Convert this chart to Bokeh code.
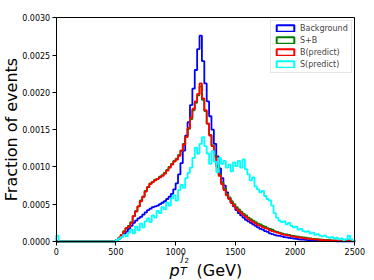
import math
from bokeh.plotting import figure
from bokeh.models import (Range1d, FixedTicker, NumeralTickFormatter, Label,
                          Legend, LegendItem, LinearAxis)
from bokeh.embed import file_html
from bokeh.resources import INLINE

# ---------------- data ----------------
bin_edges = list(range(0, 2520, 20))          # 125 bins of 20 GeV, 0..2500
x_lo, x_hi = 0, 2500
y_lo, y_hi = 0.0, 0.003
x_ticks = [0, 500, 1000, 1500, 2000, 2500]
y_ticks = [0.0, 0.0005, 0.0010, 0.0015, 0.0020, 0.0025, 0.0030]

first_bin_bg = [0.0]
first_bin_sb = [0.0]
first_bin_bp = [0.0]
first_bin_sp = [0.00008]
empty_bins = [0.0] * 24                      # 20..500 GeV: no events

background = [
    0.00002, 0.00004, 0.00007, 0.00010, 0.00013,
    0.00017, 0.00021, 0.00025, 0.00028, 0.00031,
    0.00033, 0.00036, 0.00039, 0.00042, 0.00044,
    0.00046, 0.00047, 0.00048, 0.00050, 0.00052,
    0.00054, 0.00057, 0.00060, 0.00064, 0.00070,
    0.00078, 0.00090, 0.00105, 0.00122, 0.00142,
    0.00160, 0.00183, 0.00205, 0.00230, 0.00258,
    0.00276, 0.00242, 0.00212, 0.00188, 0.00168,
    0.00150, 0.00131, 0.00114, 0.00098, 0.00085,
    0.00075, 0.00066, 0.00058, 0.00052, 0.00047,
    0.00042, 0.00038, 0.00035, 0.00032, 0.00029,
    0.00027, 0.00025, 0.00023, 0.00021, 0.00019,
    0.00017, 0.00016, 0.00014, 0.00013, 0.00011,
    0.00010, 0.00009, 0.00008, 0.000075, 0.00007,
    0.00006, 0.000055, 0.00005, 0.000045, 0.00004,
    0.000035, 0.00003, 0.000027, 0.000024, 0.000021,
    0.000018, 0.000016, 0.000014, 0.000012, 0.00001,
    0.000009, 0.000008, 0.000007, 0.000006, 0.000005,
    0.000005, 0.000004, 0.000003, 0.000003, 0.000002,
    0.000002, 0.000002, 0.000001, 0.000001, 0.000001,
]

s_plus_b = [
    0.00002, 0.00005, 0.00009, 0.00014, 0.00018,
    0.00021, 0.00026, 0.00034, 0.00041, 0.00047,
    0.00055, 0.00060, 0.00068, 0.00073, 0.00078,
    0.00080, 0.00083, 0.00084, 0.00087, 0.00089,
    0.00092, 0.00096, 0.00100, 0.00104, 0.00108,
    0.00111, 0.00116, 0.00122, 0.00131, 0.00140,
    0.00151, 0.00164, 0.00176, 0.00186, 0.00196,
    0.00208, 0.00190, 0.00175, 0.00158, 0.00143,
    0.00129, 0.00115, 0.00102, 0.00090, 0.00079,
    0.00071, 0.00064, 0.00059, 0.00054, 0.00050,
    0.00046, 0.00043, 0.00040, 0.00037, 0.00035,
    0.00032, 0.00030, 0.00028, 0.00026, 0.00024,
    0.00023, 0.00021, 0.00020, 0.00018, 0.00017,
    0.00016, 0.00014, 0.00013, 0.00012, 0.00011,
    0.00010, 0.000095, 0.00009, 0.00008, 0.000075,
    0.00007, 0.000065, 0.00006, 0.000055, 0.00005,
    0.000045, 0.00004, 0.000036, 0.000033, 0.00003,
    0.000027, 0.000024, 0.000022, 0.00002, 0.000018,
    0.000016, 0.000014, 0.000013, 0.000011, 0.00001,
    0.000009, 0.000008, 0.000014, 0.000007, 0.000006,
]

b_predict = [
    0.00002, 0.00005, 0.00009, 0.00013, 0.00018,
    0.00020, 0.00025, 0.00034, 0.00040, 0.00047,
    0.00054, 0.00060, 0.00067, 0.00073, 0.00077,
    0.00080, 0.00082, 0.00084, 0.00086, 0.00088,
    0.00091, 0.00095, 0.00099, 0.00103, 0.00107,
    0.00110, 0.00115, 0.00122, 0.00130, 0.00140,
    0.00152, 0.00166, 0.00178, 0.00188, 0.00198,
    0.00212, 0.00192, 0.00176, 0.00158, 0.00142,
    0.00128, 0.00114, 0.00100, 0.00088, 0.00077,
    0.00069, 0.00062, 0.00057, 0.00052, 0.00048,
    0.00044, 0.00041, 0.00038, 0.00035, 0.00033,
    0.00030, 0.00028, 0.00026, 0.00024, 0.00022,
    0.00021, 0.00019, 0.00018, 0.00017, 0.00015,
    0.00014, 0.00013, 0.00012, 0.00011, 0.00010,
    0.00009, 0.000085, 0.00008, 0.00007, 0.000065,
    0.00006, 0.000055, 0.00005, 0.000045, 0.00004,
    0.000037, 0.000034, 0.00003, 0.000028, 0.000025,
    0.000023, 0.00002, 0.000018, 0.000016, 0.000015,
    0.000013, 0.000012, 0.00001, 0.000009, 0.000008,
    0.000008, 0.000007, 0.000012, 0.000006, 0.000005,
]

s_predict = [
    0.00002, 0.00004, 0.00006, 0.00009, 0.00007,
    0.00012, 0.00016, 0.00011, 0.00020, 0.00015,
    0.00024, 0.00019, 0.00027, 0.00031, 0.00026,
    0.00035, 0.00032, 0.00041, 0.00038, 0.00046,
    0.00043, 0.00052, 0.00048, 0.00058, 0.00062,
    0.00055, 0.00069, 0.00076, 0.00072, 0.00085,
    0.00092, 0.00099, 0.00112, 0.00126, 0.00118,
    0.00131, 0.00140, 0.00128, 0.00118, 0.00104,
    0.00121, 0.00107, 0.00093, 0.00112, 0.00104,
    0.00108, 0.00099, 0.00103, 0.00094, 0.00106,
    0.00101, 0.00108, 0.00099, 0.00110, 0.00097,
    0.00090, 0.00082, 0.00086, 0.00074, 0.00070,
    0.00066, 0.00068, 0.00061, 0.00057, 0.00055,
    0.00048, 0.00038, 0.00032, 0.00028, 0.00026,
    0.00027, 0.00023, 0.00025, 0.00021, 0.00019,
    0.00020, 0.00016, 0.00017, 0.00014, 0.00013,
    0.00014, 0.00011, 0.00012, 0.00009, 0.00010,
    0.00008, 0.00007, 0.00008, 0.00006, 0.00005,
    0.00006, 0.00004, 0.00005, 0.00003, 0.00004,
    0.00002, 0.00003, 0.00008, 0.00003, 0.00001,
]

series_labels = ["Background", "S+B", "B(predict)", "S(predict)"]
series_colors = ["#0000ff", "#008000", "#ff0000", "#00ffff"]
series_values = [
    first_bin_bg + empty_bins + background,
    first_bin_sb + empty_bins + s_plus_b,
    first_bin_bp + empty_bins + b_predict,
    first_bin_sp + empty_bins + s_predict,
]

FONT = "DejaVu Sans"

# ---------------- layout (pixels) ----------------
W, H = 374, 280
box_left, box_right = 55.7, 354.3      # pixel position of x = 0 and x = 2500
box_top, box_bottom = 17.3, 241.0      # pixel position of y = 0.003 and y = 0
ux = (x_hi - x_lo) / (box_right - box_left)   # data units per pixel
uy = (y_hi - y_lo) / (box_bottom - box_top)


def dx(px):
    return x_lo + (px - box_left) * ux


def dy(py):
    return y_lo + (box_bottom - py) * uy


p = figure(width=W, height=H, output_backend="svg", toolbar_location=None,
           x_range=Range1d(dx(0), dx(W)), y_range=Range1d(dy(H), dy(0)),
           min_border_left=0, min_border_right=0,
           min_border_top=0, min_border_bottom=0)
p.title.visible = False
p.background_fill_color = "white"
p.border_fill_color = "white"
p.outline_line_color = None
p.xgrid.visible = False
p.ygrid.visible = False

p.xaxis.fixed_location = y_lo
p.yaxis.fixed_location = x_lo
p.xaxis.bounds = (x_lo, x_hi)
p.yaxis.bounds = (y_lo, y_hi)
p.xaxis.ticker = FixedTicker(ticks=x_ticks)
p.yaxis.ticker = FixedTicker(ticks=y_ticks)
p.yaxis.formatter = NumeralTickFormatter(format="0.0000")
for ax in (p.xaxis, p.yaxis):
    ax.major_label_text_font = FONT
    ax.major_label_text_font_size = "8px"
    ax.major_label_text_color = "black"
    ax.major_tick_out = 4
    ax.major_tick_in = 0
    ax.major_tick_line_color = "black"
    ax.minor_tick_line_color = None
    ax.axis_line_color = "black"
    ax.major_label_standoff = 2

# top and right spines
top_ax = LinearAxis(fixed_location=y_hi, bounds=(x_lo, x_hi),
                    ticker=FixedTicker(ticks=[]), axis_line_color="black",
                    major_tick_line_color=None, minor_tick_line_color=None)
right_ax = LinearAxis(fixed_location=x_hi, bounds=(y_lo, y_hi),
                      ticker=FixedTicker(ticks=[]), axis_line_color="black",
                      major_tick_line_color=None, minor_tick_line_color=None)
p.add_layout(top_ax, "above")
p.add_layout(right_ax, "right")

# histogram step outlines
legend_items = []
for label, color, vals in zip(series_labels, series_colors, series_values):
    xs = [bin_edges[0]] + bin_edges
    ys = [0.0] + vals + [0.0]
    p.step(x=xs, y=ys, mode="after", line_color=color, line_width=1.8)
    proxy = p.quad(left=bin_edges[:1], right=bin_edges[1:2], top=vals[:1],
                   bottom=[0.0], fill_alpha=0, line_color=color, line_width=2)
    proxy.visible = False
    legend_items.append(LegendItem(label=label, renderers=[proxy]))

legend_h = 52
legend = Legend(items=legend_items, location=(270, H - 20.5 - legend_h),
                label_text_font=FONT, label_text_font_size="8px",
                glyph_width=22, glyph_height=8, label_height=8,
                label_standoff=4, spacing=3, padding=3, margin=0,
                border_line_color="#cccccc", border_line_width=1,
                background_fill_color="white", background_fill_alpha=0.8)
p.add_layout(legend)

# axis titles
p.add_layout(Label(x=dx(10.5), y=dy(129), text="Fraction of events",
                   angle=math.pi / 2, text_align="center", text_baseline="middle",
                   text_font=FONT, text_font_size="16px", text_color="black"))

shift = 5
p.add_layout(Label(x=dx(169), y=dy(274.5 - shift), text="p", text_font=FONT,
                   text_font_style="italic", text_font_size="16px",
                   text_baseline="alphabetic", text_color="black"))
p.add_layout(Label(x=dx(179.5), y=dy(276 - shift), text="T", text_font=FONT,
                   text_font_style="italic", text_font_size="11px",
                   text_baseline="alphabetic", text_color="black"))
p.add_layout(Label(x=dx(180.5), y=dy(261.5 - shift), text="j", text_font=FONT,
                   text_font_style="italic", text_font_size="10px",
                   text_baseline="alphabetic", text_color="black"))
p.add_layout(Label(x=dx(184), y=dy(264.5 - shift), text="2", text_font=FONT,
                   text_font_size="7px",
                   text_baseline="alphabetic", text_color="black"))
p.add_layout(Label(x=dx(196), y=dy(274.5 - shift), text="(GeV)", text_font=FONT,
                   text_font_size="16px",
                   text_baseline="alphabetic", text_color="black"))

open("out.html", "w").write(file_html(p, INLINE))
